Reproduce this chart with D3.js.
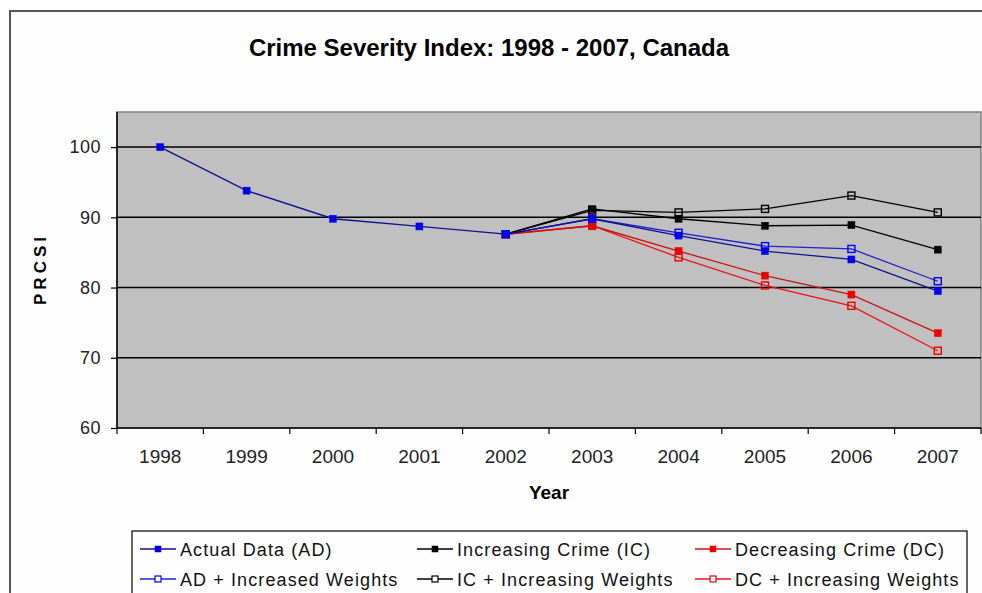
<!DOCTYPE html>
<html><head><meta charset="utf-8">
<script src="https://cdn.jsdelivr.net/npm/d3@7"></script>
<style>
html,body{margin:0;padding:0;background:#fff;}
svg{display:block;font-family:"Liberation Sans",Arial,sans-serif;}
</style></head>
<body>
<svg id="chart" width="982" height="593"></svg>
<script>
const years = ["1998","1999","2000","2001","2002","2003","2004","2005","2006","2007"];
const yTicks = [60,70,80,90,100];
const actualData   = [100, 93.8, 89.8, 88.7, 87.6, 89.8, 87.4, 85.2, 84.0, 79.5];
const adWeights    = [null, null, null, null, 87.6, 89.8, 87.8, 85.9, 85.5, 80.9];
const icData       = [null, null, null, null, 87.6, 91.2, 89.8, 88.8, 88.9, 85.4];
const icWeights    = [null, null, null, null, 87.6, 91.0, 90.7, 91.2, 93.1, 90.7];
const dcData       = [null, null, null, null, 87.6, 88.8, 85.2, 81.7, 79.0, 73.5];
const dcWeights    = [null, null, null, null, 87.6, 88.8, 84.3, 80.3, 77.4, 71.0];
const seriesNames  = ["Actual Data (AD)","Increasing Crime (IC)","Decreasing Crime (DC)",
                      "AD + Increased Weights","IC + Increasing Weights","DC + Increasing Weights"];

const series = [
  {name: seriesNames[4], values: icWeights, line:"#000000", marker:"#000000", hollow:true},
  {name: seriesNames[1], values: icData,    line:"#000000", marker:"#000000", hollow:false},
  {name: seriesNames[5], values: dcWeights, line:"#ee1111", marker:"#ee0000", hollow:true},
  {name: seriesNames[2], values: dcData,    line:"#cc1111", marker:"#ee0000", hollow:false},
  {name: seriesNames[3], values: adWeights, line:"#2020cc", marker:"#0000ee", hollow:true},
  {name: seriesNames[0], values: actualData,line:"#101090", marker:"#0000ee", hollow:false}
];

const svg = d3.select("#chart");
const plot = {left:117, right:981, top:112, bottom:428};

// outer border
svg.append("rect").attr("x",10).attr("y",11).attr("width",1000).attr("height",620)
  .attr("fill","#fefefe").attr("stroke","#555").attr("stroke-width",2);

// title
svg.append("text").attr("x",489).attr("y",56).attr("text-anchor","middle")
  .attr("font-size",24).attr("font-weight","bold").attr("fill","#000")
  .text("Crime Severity Index: 1998 - 2007, Canada");

const x = d3.scaleBand().domain(years).range([plot.left, plot.right]);
const y = d3.scaleLinear().domain([60,105]).range([plot.bottom, plot.top]);

// plot area
svg.append("rect").attr("x",plot.left).attr("y",plot.top)
  .attr("width",plot.right-plot.left).attr("height",plot.bottom-plot.top)
  .attr("fill","#c0c0c0").attr("stroke","#808080").attr("stroke-width",1.5);

// gridlines
svg.append("g").selectAll("line").data(yTicks.filter(d=>d>60)).join("line")
  .attr("x1",plot.left).attr("x2",plot.right)
  .attr("y1",d=>y(d)).attr("y2",d=>y(d))
  .attr("stroke","#000").attr("stroke-width",1.5);

// y axis
const yAxis = svg.append("g").attr("transform",`translate(${plot.left},0)`)
  .call(d3.axisLeft(y).tickValues(yTicks).tickSize(6).tickPadding(10).tickFormat(d3.format("d")));
yAxis.select(".domain").attr("stroke","#000").attr("stroke-width",1.5).attr("d",`M0,${plot.top}V${plot.bottom}`);
yAxis.selectAll(".tick line").attr("stroke","#000").attr("stroke-width",1.2);
yAxis.selectAll(".tick text").attr("font-size",18).attr("fill","#222")
  .attr("font-family","'Liberation Sans',Arial,sans-serif").attr("letter-spacing","0.5px");

// x axis
const xAxis = svg.append("g").attr("transform",`translate(0,${plot.bottom})`)
  .call(d3.axisBottom(x).tickSize(0).tickPadding(22));
xAxis.select(".domain").remove();
svg.append("line").attr("x1",plot.left).attr("x2",plot.right).attr("y1",plot.bottom).attr("y2",plot.bottom)
  .attr("stroke","#000").attr("stroke-width",1.5);
const boundaries = years.map(d => x(d)).concat([x(years[years.length-1]) + x.bandwidth()]);
svg.append("g").selectAll("line").data(boundaries).join("line")
  .attr("x1",d=>d).attr("x2",d=>d).attr("y1",plot.bottom).attr("y2",plot.bottom+6)
  .attr("stroke","#000").attr("stroke-width",1.2);
xAxis.selectAll(".tick text").attr("font-size",19).attr("fill","#222")
  .attr("font-family","'Liberation Sans',Arial,sans-serif");

// axis titles
svg.append("text").attr("x",549).attr("y",499).attr("text-anchor","middle")
  .attr("font-size",19).attr("font-weight","bold").text("Year");
svg.append("text").attr("transform","translate(46,269) rotate(-90)").attr("text-anchor","middle")
  .attr("font-size",17).attr("font-weight","bold").attr("letter-spacing","4px").text("PRCSI");

// series
const lineGen = d3.line().defined(d => d.v !== null).x(d => x(d.yr) + x.bandwidth()/2).y(d => y(d.v));
const ms = 7;
series.forEach(s => {
  const pts = years.map((yr,i) => ({yr, v: s.values[i]}));
  svg.append("path").datum(pts).attr("d",lineGen).attr("fill","none")
    .attr("stroke",s.line).attr("stroke-width",1.3);
  svg.append("g").selectAll("rect").data(pts.filter(p => p.v !== null)).join("rect")
    .attr("x",p => x(p.yr) + x.bandwidth()/2 - ms/2)
    .attr("y",p => y(p.v) - ms/2)
    .attr("width",ms).attr("height",ms)
    .attr("fill",s.hollow ? "none" : s.marker)
    .attr("stroke",s.marker).attr("stroke-width",s.hollow?1.4:0.5);
});

// legend
svg.append("rect").attr("x",132).attr("y",531).attr("width",835).attr("height",80)
  .attr("fill","#fefefe").attr("stroke","#000").attr("stroke-width",1.2);
const legendOrder = [
  {name: seriesNames[0], s: series[5], col:0, row:0},
  {name: seriesNames[1], s: series[1], col:1, row:0},
  {name: seriesNames[2], s: series[3], col:2, row:0},
  {name: seriesNames[3], s: series[4], col:0, row:1},
  {name: seriesNames[4], s: series[0], col:1, row:1},
  {name: seriesNames[5], s: series[2], col:2, row:1}
];
const colX = [140, 417, 695];
const rowY = [549, 579];
legendOrder.forEach(it => {
  const g = svg.append("g").attr("transform",`translate(${colX[it.col]},${rowY[it.row]})`);
  g.append("line").attr("x1",0).attr("x2",36).attr("y1",0).attr("y2",0)
    .attr("stroke",it.s.line).attr("stroke-width",1.3);
  g.append("rect").attr("x",18-3).attr("y",-3).attr("width",6).attr("height",6)
    .attr("fill",it.s.hollow ? "#fefefe" : it.s.marker).attr("stroke",it.s.marker).attr("stroke-width",it.s.hollow?1.2:0.5);
  g.append("text").attr("x",40).attr("y",6.5).attr("font-size",18).attr("fill","#111")
    .attr("letter-spacing","1.1px").text(it.name);
});
</script>
</body></html>
